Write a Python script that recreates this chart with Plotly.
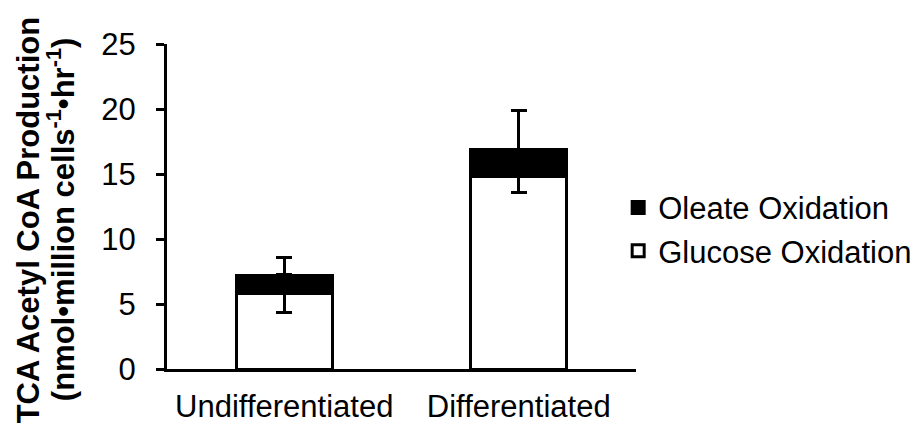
import plotly.graph_objects as go

# TCA acetyl-CoA production by substrate, stacked per cell state
categories = ["Undifferentiated", "Differentiated"]
glucose = [5.8, 14.8]
oleate = [1.4, 2.1]
glucose_err = [1.45, 1.2]
oleate_err = [1.4, 3.0]
y_ticks = [0, 5, 10, 15, 20, 25]
title_lines = [
    "<b>TCA Acetyl CoA Production</b>",
    "<b>(nmol•million cells<sup>-1</sup>•hr<sup>-1</sup>)</b>",
]

FONT = "Liberation Sans, Arial, sans-serif"
TEXT_SIZE = 31

fig = go.Figure()
fig.add_trace(go.Bar(
    x=categories, y=glucose, name="Glucose Oxidation",
    marker=dict(color="white", line=dict(color="black", width=3)),
    error_y=dict(type="data", array=glucose_err, color="black",
                 thickness=3, width=8),
    width=0.41,
))
fig.add_trace(go.Bar(
    x=categories, y=oleate, name="Oleate Oxidation",
    marker=dict(color="black", line=dict(color="black", width=3)),
    error_y=dict(type="data", symmetric=False, array=oleate_err,
                 arrayminus=[0, 0], color="black", thickness=3, width=8),
    width=0.41,
))

fig.update_layout(
    barmode="stack",
    width=921, height=434,
    margin=dict(l=167, r=285, t=44, b=65, autoexpand=False),
    paper_bgcolor="white", plot_bgcolor="white",
    font=dict(family=FONT, size=TEXT_SIZE, color="black"),
    showlegend=True,
    legend=dict(x=0.962, xanchor="left", y=0.43, yanchor="middle",
                traceorder="reversed", font=dict(size=TEXT_SIZE),
                bgcolor="rgba(0,0,0,0)"),
)
fig.update_xaxes(
    showline=True, linecolor="black", linewidth=3,
    ticks="", showgrid=False, tickfont=dict(size=TEXT_SIZE),
    ticklabelstandoff=8, automargin=False,
)
fig.update_yaxes(
    range=[0, 25], tickvals=y_ticks, ticktext=[str(v) for v in y_ticks],
    showline=True, linecolor="black", linewidth=3,
    ticks="outside", ticklen=8, tickwidth=3, tickcolor="black",
    showgrid=False, zeroline=False, tickfont=dict(size=TEXT_SIZE),
    ticklabelstandoff=14, automargin=False,
)

# Rotated two-line y-axis title, one annotation per line
for line, xpos in zip(title_lines, [-0.296, -0.226]):
    fig.add_annotation(
        text=line, xref="paper", yref="paper", x=xpos, y=0.458,
        xanchor="center", yanchor="middle", textangle=-90,
        showarrow=False, font=dict(family=FONT, size=31, color="black"),
    )

fig.write_html("out.html")
